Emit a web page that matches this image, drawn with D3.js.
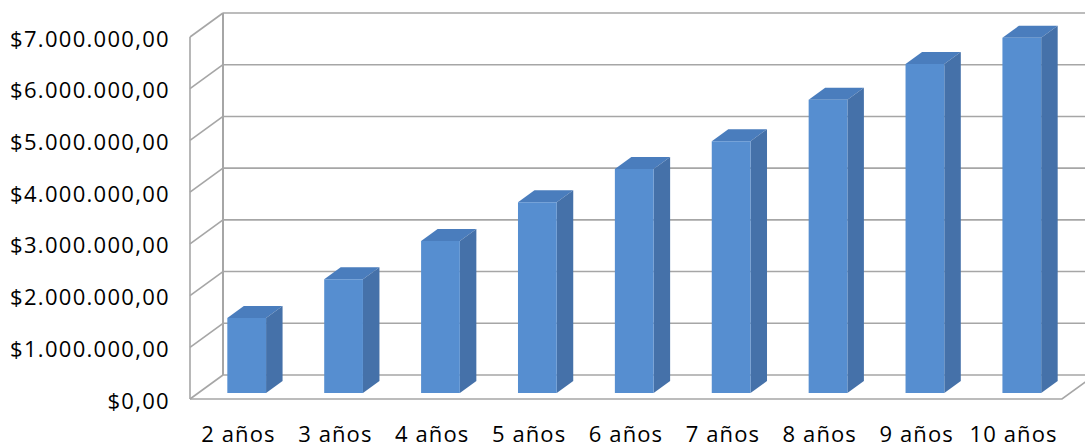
<!DOCTYPE html>
<html>
<head>
<meta charset="utf-8">
<script src="https://cdn.jsdelivr.net/npm/d3@7"></script>
<style>
  html, body { margin: 0; padding: 0; background: #fff; }
  svg { display: block; }
  text { font-family: "Open Sans", sans-serif; fill: #000; }
</style>
</head>
<body>
<svg id="chart" width="1085" height="447"></svg>
<script>
// ---- data ----
const categories = ["2 años", "3 años", "4 años", "5 años", "6 años", "7 años", "8 años", "9 años", "10 años"];
const values = [1450000, 2200000, 2940000, 3690000, 4330000, 4870000, 5670000, 6360000, 6870000];
const tickValues = [0, 1000000, 2000000, 3000000, 4000000, 5000000, 6000000, 7000000];

// ---- layout ----
const W = 1085, H = 447;
const backLeft = 223, backRight = 1095;
const backTop = 13, backBottom = 375;
const DX = -33, DY = 24;          // full depth offset (back -> front)
const barT0 = 0.25, barT1 = 0.75; // bar depth range

const svg = d3.select("#chart");

const x = d3.scaleBand().domain(categories).range([backLeft, backRight])
  .paddingInner(0.6).paddingOuter(0.3);
const y = d3.scaleLinear().domain([0, 7000000]).range([backBottom, backTop]);

const P = (px, py, t) => [px + DX * t, py + DY * t];
const poly = pts => "M" + pts.map(p => p.join(",")).join("L") + "Z";

const gridColor = "#a6a6a6";

// back wall gridlines
svg.append("g").selectAll("line").data(tickValues).join("line")
  .attr("x1", backLeft).attr("x2", backRight)
  .attr("y1", d => y(d)).attr("y2", d => y(d))
  .attr("stroke", gridColor).attr("stroke-width", 1.6);

// back wall left edge
svg.append("line")
  .attr("x1", backLeft).attr("x2", backLeft)
  .attr("y1", y(7000000)).attr("y2", y(0))
  .attr("stroke", gridColor).attr("stroke-width", 2);

// side wall: slanted gridlines
svg.append("g").selectAll("line").data(tickValues).join("line")
  .attr("x1", backLeft).attr("y1", d => y(d))
  .attr("x2", backLeft + DX).attr("y2", d => y(d) + DY)
  .attr("stroke", gridColor).attr("stroke-width", 1.6);

// side wall front edge
svg.append("line")
  .attr("x1", backLeft + DX).attr("x2", backLeft + DX)
  .attr("y1", y(7000000) + DY).attr("y2", y(0) + DY)
  .attr("stroke", gridColor).attr("stroke-width", 1.6);

// floor front edge & right edge
svg.append("path")
  .attr("d", "M" + [backLeft + DX, backBottom + DY] + "L" + [backRight + DX, backBottom + DY] + "L" + [backRight, backBottom])
  .attr("fill", "none").attr("stroke", gridColor).attr("stroke-width", 1.6);

// bars
const data = categories.map((c, i) => ({ c, v: values[i] }));
const bars = svg.append("g").selectAll("g").data(data).join("g");

bars.each(function(d) {
  const g = d3.select(this);
  const x0 = x(d.c), x1 = x(d.c) + x.bandwidth();
  const yb = y(0), yt = y(d.v);
  // top face
  g.append("path").attr("d", poly([P(x0, yt, barT1), P(x1, yt, barT1), P(x1, yt, barT0), P(x0, yt, barT0)]))
    .attr("fill", "#4a7dbd");
  // side face
  g.append("path").attr("d", poly([P(x1, yt, barT1), P(x1, yt, barT0), P(x1, yb, barT0), P(x1, yb, barT1)]))
    .attr("fill", "#4571a9");
  // front face
  g.append("path").attr("d", poly([P(x0, yt, barT1), P(x1, yt, barT1), P(x1, yb, barT1), P(x0, yb, barT1)]))
    .attr("fill", "#568ed0");
});

// value axis labels (front plane)
const locale = d3.formatLocale({ decimal: ",", thousands: ".", grouping: [3], currency: ["$", ""] });
const fmt = locale.format("$,.2f");
const yFront = y.copy().range([backBottom + DY, backTop + DY]);
const yAxis = svg.append("g")
  .attr("transform", `translate(${backLeft + DX},2)`)
  .call(d3.axisLeft(yFront).tickValues(tickValues).tickFormat(fmt).tickSize(0).tickPadding(20));
yAxis.select(".domain").remove();
yAxis.selectAll("text").attr("font-family", "Open Sans, sans-serif").attr("font-size", 22)
  .attr("letter-spacing", "1.3px").attr("fill", "#000");

// category labels (front plane)
const xFront = x.copy().range([backLeft + DX, backRight + DX]);
const xAxis = svg.append("g")
  .attr("transform", `translate(0,${backBottom + DY + 27})`)
  .call(d3.axisBottom(xFront).tickSize(0).tickPadding(0));
xAxis.select(".domain").remove();
xAxis.selectAll("text").attr("font-family", "Open Sans, sans-serif").attr("font-size", 22)
  .attr("letter-spacing", "1.1px").attr("fill", "#000");
</script>
</body>
</html>
